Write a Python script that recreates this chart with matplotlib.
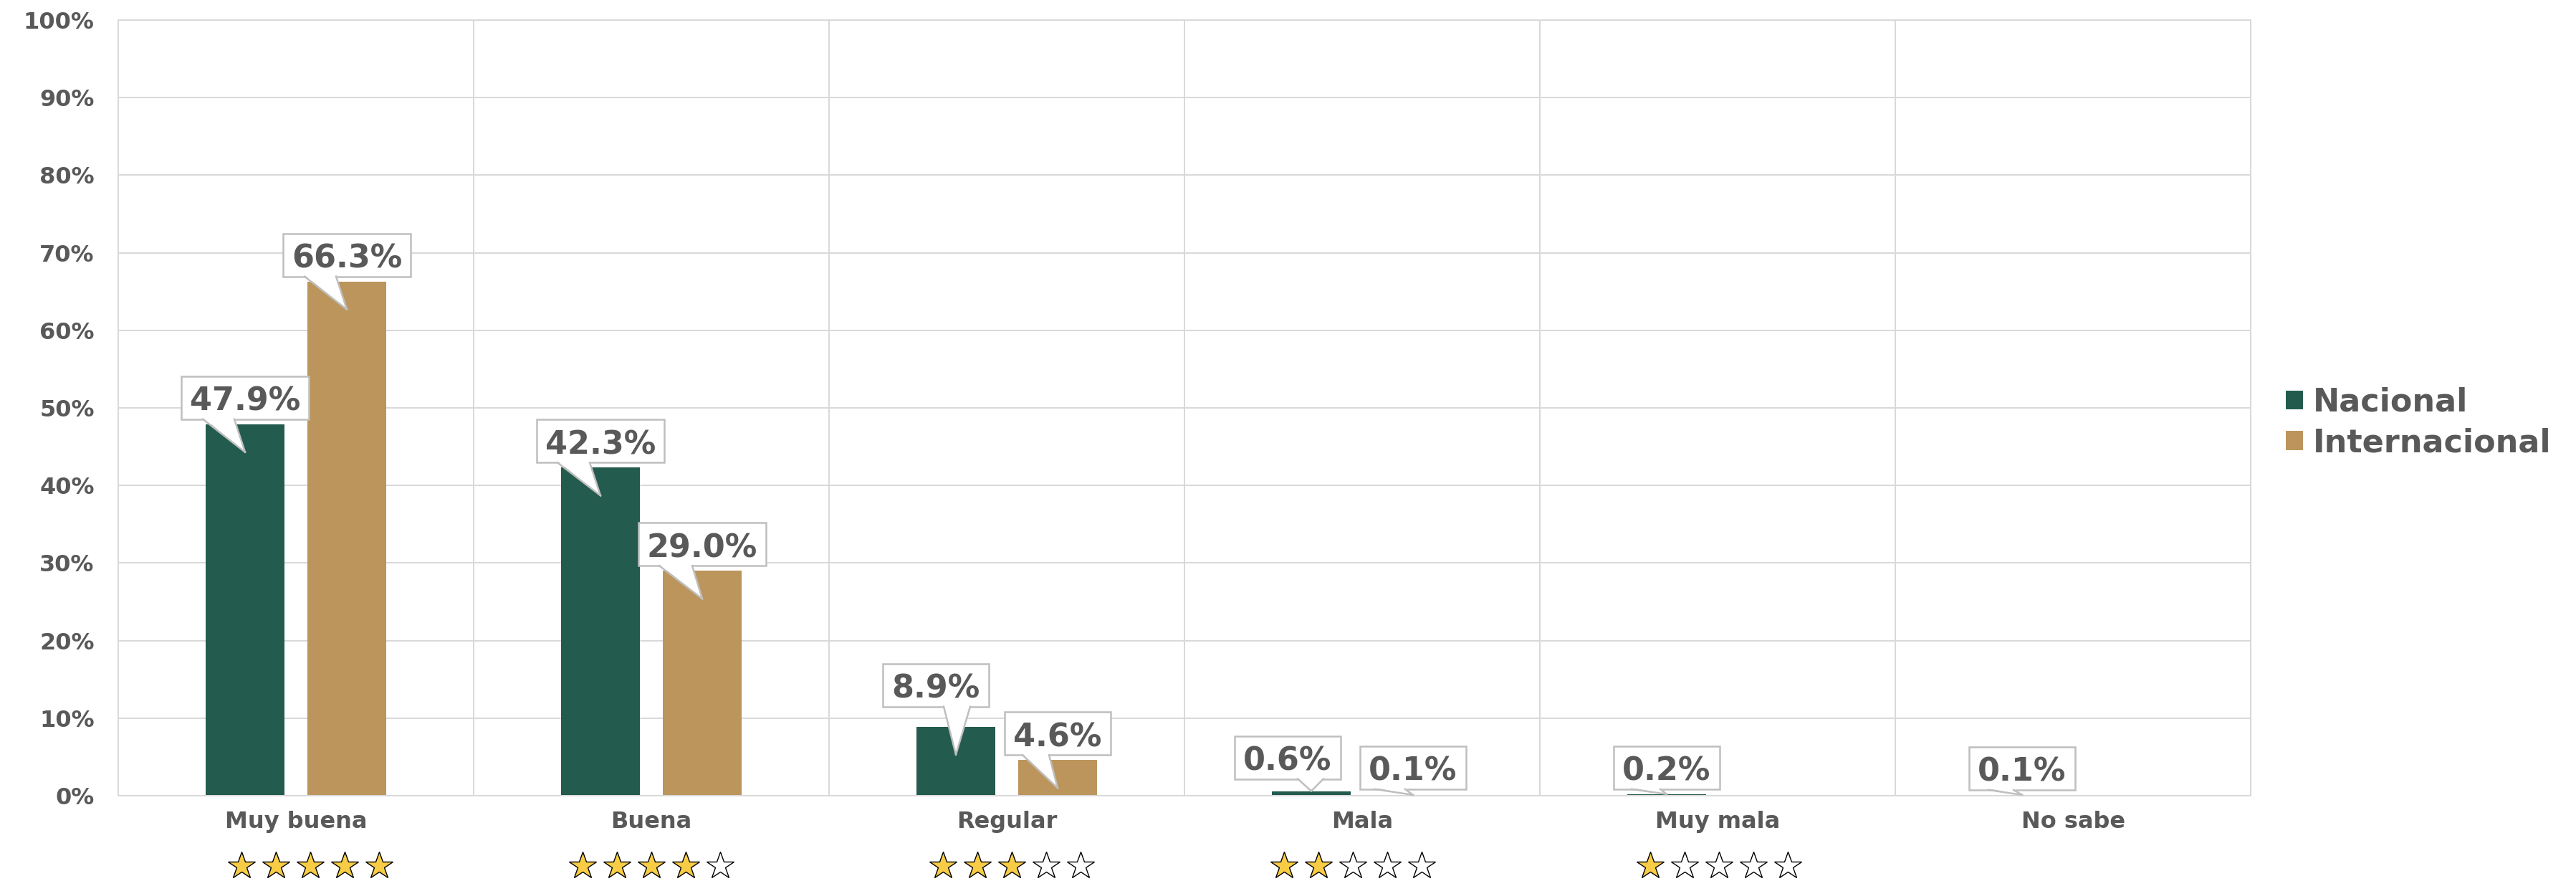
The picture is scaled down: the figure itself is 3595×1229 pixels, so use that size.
import numpy as np
import matplotlib
matplotlib.use('Agg')
import matplotlib.pyplot as plt
from matplotlib.patches import Rectangle, Polygon, Patch
from matplotlib.lines import Line2D
from matplotlib.transforms import IdentityTransform

plt.rcParams['font.family'] = ['DejaVu Sans']

categorias = ['Muy buena', 'Buena', 'Regular', 'Mala', 'Muy mala', 'No sabe']
estrellas = [5, 4, 3, 2, 1, 0]
nacional = [47.9, 42.3, 8.9, 0.6, 0.2, 0.1]
internacional = [66.3, 29.0, 4.6, 0.1, None, None]
yticks = list(range(0, 101, 10))

VERDE = '#235B4E'
DORADO = '#BC955C'
GRIS_TXT = '#595959'
GRIS_GRID = '#D9D9D9'
GRIS_BORDE = '#BFBFBF'
AMARILLO = '#F8CD45'

# callout geometry in pixels: (box dx, gap over bar, pointer base left, base right, tip depth)
forma_nac = [(0, 7, -59, -15, 39), (0, 7, -60, -15, 39), (-28, 28, -17, 20, 39),
             (-33, 17, -19, 17, 0), (0, 7, -49, -9, 0), (0, 7, -47, -12, 0)]
forma_int = [(0, 7, -59, -15, 39), (0, 7, -60, -14, 39), (0, 7, -49, -12, 39),
             (0, 8, -53, -11, 0), None, None]
# small horizontal nudge of each star row, in pixels
estrellas_dx = [20, 0, 7, -13, 2, 0]

fig = plt.figure(figsize=(35.95, 12.29), dpi=100)
W, H = 3595, 1229
ax = fig.add_axes([165 / W, 1 - 1110 / H, (3141 - 165) / W, (1110 - 28) / H])

n = len(categorias)
x = np.arange(n)
px_x = n / 2976.0
ancho = 110 * px_x
off = 71 * px_x

v_nac = np.array([np.nan if v is None else v for v in nacional], dtype=float)
v_int = np.array([np.nan if v is None else v for v in internacional], dtype=float)
ax.bar(x - off, v_nac, width=ancho, color=VERDE, zorder=2, label='Nacional')
ax.bar(x + off, v_int, width=ancho, color=DORADO, zorder=2, label='Internacional')

ax.set_xlim(-0.5, n - 0.5)
ax.set_ylim(0, 100)
ax.set_yticks(yticks)
ax.set_yticklabels([f'{t}%' for t in yticks], fontsize=23, fontweight='bold', color=GRIS_TXT)
ax.set_xticks([])
ax.set_xticks(np.arange(-0.5, n, 1), minor=True)
ax.tick_params(axis='both', which='both', length=0, pad=24)
ax.set_axisbelow(True)
ax.grid(axis='y', which='major', color=GRIS_GRID, linewidth=1.44)
ax.grid(axis='x', which='minor', color=GRIS_GRID, linewidth=1.44)
for s in ax.spines.values():
    s.set_color(GRIS_GRID)
    s.set_linewidth(1.44)

fig.canvas.draw()
renderer = fig.canvas.get_renderer()
ident = IdentityTransform()
base_y = ax.transData.transform((0, 0))[1]


def callout(xc, valor, forma):
    dx, gap, bl, br, prof = forma
    cx, top = ax.transData.transform((xc, valor))
    t = ax.text(cx + dx, top + gap + 12, f'{valor:.1f}%', transform=ident,
                ha='center', va='baseline', fontsize=32, fontweight='bold',
                color=GRIS_TXT, zorder=7, clip_on=False)
    ancho_txt = t.get_window_extent(renderer).width
    w = ancho_txt + 24
    y0 = top + gap
    ax.add_patch(Rectangle((cx + dx - w / 2, y0), w, 60, transform=ident,
                           facecolor='white', edgecolor=GRIS_BORDE, linewidth=1.8,
                           zorder=5, clip_on=False))
    tip = (cx, max(top - prof, base_y + 1))
    ax.add_patch(Polygon([(cx + bl, y0 + 2), (cx + br, y0 + 2), tip], closed=True,
                         transform=ident, facecolor='white', edgecolor='none',
                         zorder=6, clip_on=False))
    for bx in (bl, br):
        ax.add_line(Line2D([cx + bx, tip[0]], [y0, tip[1]], transform=ident,
                           color=GRIS_BORDE, linewidth=1.8, zorder=6, clip_on=False))


for i in range(n):
    if nacional[i] is not None:
        callout(x[i] - off, nacional[i], forma_nac[i])
    if internacional[i] is not None:
        callout(x[i] + off, internacional[i], forma_int[i])

# category names and star ratings under the axis
for i, cat in enumerate(categorias):
    cx = ax.transData.transform((x[i], 0))[0]
    ax.text(cx, base_y - 45, cat, transform=ident, ha='center', va='baseline',
            fontsize=23, fontweight='bold', color=GRIS_TXT, clip_on=False)
    if estrellas[i] == 0:
        continue
    for k in range(5):
        sx = cx + estrellas_dx[i] + (k - 2) * 48
        ax.add_line(Line2D([sx], [base_y - 98], transform=ident, marker='*',
                           markersize=29, markerfacecolor=AMARILLO if k < estrellas[i] else 'white',
                           markeredgecolor='black', markeredgewidth=1.0,
                           linestyle='none', clip_on=False))

handles = [Patch(facecolor=VERDE, label='Nacional'),
           Patch(facecolor=DORADO, label='Internacional')]
leg = fig.legend(handles=handles, loc='center left', bbox_to_anchor=(3190 / W, 1 - 589.5 / H),
                 frameon=False, borderpad=0, borderaxespad=0,
                 handlelength=0.54, handleheight=0.54, handletextpad=0.31,
                 labelspacing=0.3, prop={'size': 32, 'weight': 'bold'})
for t in leg.get_texts():
    t.set_color(GRIS_TXT)

fig.savefig('out.png', dpi=100, facecolor='white')
